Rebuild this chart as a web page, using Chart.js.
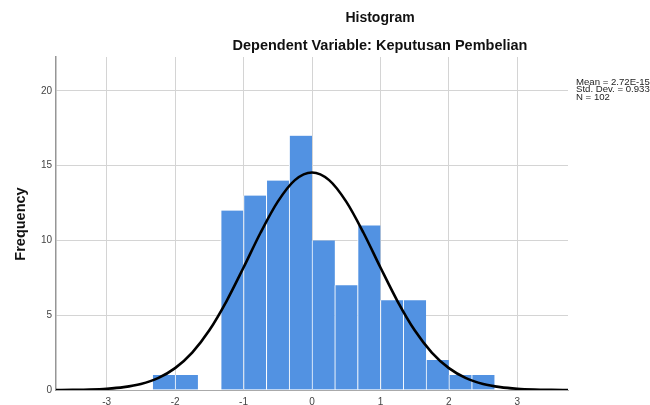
<!DOCTYPE html>
<html>
<head>
<meta charset="utf-8">
<script src="https://cdn.jsdelivr.net/npm/chart.js@4/dist/chart.umd.min.js"></script>
<style>
  html, body { margin: 0; padding: 0; background: #fff; }
  #wrap { width: 650px; height: 405px; position: relative; }
</style>
</head>
<body>
<div id="wrap"><canvas id="chart"></canvas></div>
<script>
// histogram bins (centre of each bin, width 1/3)
const binCenters = [-2.1667, -1.8333, -1.5, -1.1667, -0.8333, -0.5, -0.1667, 0.1667, 0.5, 0.8333, 1.1667, 1.5, 1.8333, 2.1667, 2.5];
const binCounts = [1, 1, 0, 12, 13, 14, 17, 10, 7, 11, 6, 6, 2, 1, 1];

// normal curve
const curveX = [-3.75, -3.5, -3.25, -3, -2.75, -2.5, -2.25, -2, -1.75, -1.5, -1.25, -1, -0.75, -0.5, -0.25, 0,
                0.25, 0.5, 0.75, 1, 1.25, 1.5, 1.75, 2, 2.25, 2.5, 2.75, 3, 3.25, 3.5, 3.75];
const curveY = [0.00, 0.01, 0.03, 0.08, 0.19, 0.40, 0.79, 1.46, 2.50, 3.99, 5.93, 8.19, 10.53, 12.59, 14.03, 14.54,
                14.03, 12.59, 10.53, 8.19, 5.93, 3.99, 2.50, 1.46, 0.79, 0.40, 0.19, 0.08, 0.03, 0.01, 0.00];

const xTicks = [-3, -2, -1, 0, 1, 2, 3];
const yTicks = [0, 5, 10, 15, 20];

const titleText = 'Histogram';
const subtitleText = 'Dependent Variable: Keputusan Pembelian';
const statsLines = ['Mean = 2.72E-15', 'Std. Dev. = 0.933', 'N = 102'];
const yTitle = 'Frequency';

const FONT = "'Liberation Sans', Arial, sans-serif";

const textPlugin = {
    id: 'texts',
    afterDraw(chart) {
        const ctx = chart.ctx;
        ctx.save();
        ctx.fillStyle = '#111';
        ctx.textAlign = 'center';
        ctx.textBaseline = 'middle';
        ctx.font = 'bold 14px ' + FONT;
        ctx.fillText(titleText, 380, 18);
        ctx.font = 'bold 14.5px ' + FONT;
        ctx.fillText(subtitleText, 380, 46);

        // stats block, slightly stretched like the source
        ctx.font = '8.5px ' + FONT;
        ctx.fillStyle = '#222';
        ctx.textAlign = 'left';
        statsLines.forEach((t, i) => {
            ctx.save();
            ctx.translate(576, 82.5 + i * 7.6);
            ctx.scale(1.13, 1);
            ctx.fillText(t, 0, 0);
            ctx.restore();
        });

        ctx.translate(21, 224);
        ctx.rotate(-Math.PI / 2);
        ctx.textAlign = 'center';
        ctx.fillStyle = '#111';
        ctx.font = 'bold 14.5px ' + FONT;
        ctx.fillText(yTitle, 0, 0);
        ctx.restore();
    }
};

new Chart(document.getElementById('chart'), {
    data: {
        datasets: [
            {
                type: 'line',
                data: curveX.map((x, i) => ({x: x, y: curveY[i]})),
                borderColor: '#000',
                borderWidth: 2.6,
                pointRadius: 0,
                cubicInterpolationMode: 'monotone',
                order: 0
            },
            {
                type: 'bar',
                data: binCenters.map((x, i) => ({x: x, y: binCounts[i]})),
                backgroundColor: 'rgb(82,146,226)',
                borderColor: '#fff',
                borderWidth: {left: 1, right: 0, top: 0, bottom: 0},
                borderSkipped: false,
                barPercentage: 1,
                categoryPercentage: 1,
                order: 1
            }
        ]
    },
    options: {
        responsive: true,
        maintainAspectRatio: false,
        animation: false,
        layout: { padding: {left: 0, right: 82, top: 57, bottom: 0} },
        plugins: {
            legend: { display: false },
            tooltip: { enabled: false }
        },
        scales: {
            x: {
                type: 'linear',
                min: -3.74,
                max: 3.74,
                offset: false,
                afterBuildTicks: s => { s.ticks = xTicks.map(v => ({value: v})); },
                afterFit: s => { s.height = 15; },
                ticks: { color: '#444', font: {family: FONT, size: 10}, padding: 6, maxRotation: 0, autoSkip: false },
                grid: { color: 'rgb(212,212,212)', lineWidth: 1, drawTicks: false, offset: false },
                border: { display: true, color: 'rgb(170,170,170)', width: 1 }
            },
            y: {
                min: 0,
                max: 22.26,
                afterBuildTicks: s => { s.ticks = yTicks.map(v => ({value: v})); },
                afterFit: s => { s.width = 56; },
                ticks: { color: '#444', font: {family: FONT, size: 10}, padding: 4, autoSkip: false },
                grid: { color: 'rgb(212,212,212)', lineWidth: 1, drawTicks: false },
                border: { display: true, color: 'rgb(150,150,150)', width: 1.5 }
            }
        }
    },
    plugins: [textPlugin]
});
</script>
</body>
</html>
